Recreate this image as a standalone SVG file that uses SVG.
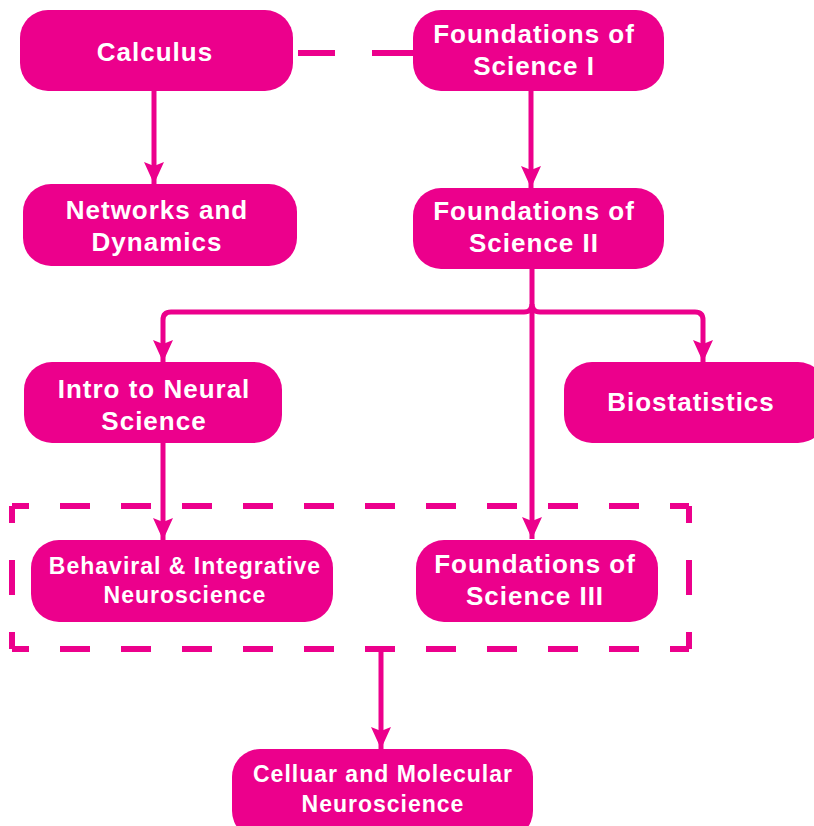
<svg xmlns="http://www.w3.org/2000/svg" width="814" height="826" viewBox="0 0 814 826">
<style>
.box{fill:#EC008C}
.t{fill:#fff;font-family:"Liberation Sans",Arial,sans-serif;font-weight:bold;font-size:26px;letter-spacing:1px;text-anchor:middle}
.s{font-size:23px;letter-spacing:1px}
.c{fill:none;stroke:#EC008C;stroke-width:5}
.d{fill:none;stroke:#EC008C;stroke-width:6}
</style>
<defs>
<marker id="ah" markerUnits="userSpaceOnUse" markerWidth="24" markerHeight="26" refX="22" refY="10" orient="auto" viewBox="0 0 24 20">
<path d="M22,10 L0,0 L4,10 L0,20 Z" fill="#EC008C"/>
</marker>
</defs>
<rect width="814" height="826" fill="#fff"/>
<g id="connectors">
<path class="c" d="M154,91 V184" marker-end="url(#ah)"/>
<path class="d" d="M298,53 H335 M372,53 H413"/>
<path class="c" d="M531,91 V188" marker-end="url(#ah)"/>
<path class="c" d="M532,269 V304 Q532,312 524,312 H171 Q163,312 163,320 V362" marker-end="url(#ah)"/>
<path class="c" d="M532,304 Q532,312 540,312 H695 Q703,312 703,320 V362" marker-end="url(#ah)"/>
<path class="c" d="M532,312 V539" marker-end="url(#ah)"/>
<path class="c" d="M163,443 V540" marker-end="url(#ah)"/>
<path class="c" d="M381,649 V749" marker-end="url(#ah)"/>
</g>
<g id="group-box">
<path class="d" d="M12,506 H689" stroke-dasharray="30 31" stroke-dashoffset="13"/>
<path class="d" d="M12,649 H689" stroke-dasharray="30 31" stroke-dashoffset="13"/>
<path class="d" d="M12,506 V649" stroke-dasharray="35 37" stroke-dashoffset="18"/>
<path class="d" d="M689,506 V649" stroke-dasharray="35 37" stroke-dashoffset="18"/>
</g>
<g id="calculus">
<rect class="box" x="20" y="10" width="273" height="81" rx="28"/>
<text class="t" x="155" y="61">Calculus</text>
</g>
<g id="fos1">
<rect class="box" x="413" y="10" width="251" height="81" rx="28"/>
<text class="t" x="534" y="43">Foundations of</text>
<text class="t" x="534" y="75">Science I</text>
</g>
<g id="networks">
<rect class="box" x="23" y="184" width="274" height="82" rx="28"/>
<text class="t" x="157" y="219">Networks and</text>
<text class="t" x="157" y="251">Dynamics</text>
</g>
<g id="fos2">
<rect class="box" x="413" y="188" width="251" height="81" rx="28"/>
<text class="t" x="534" y="220">Foundations of</text>
<text class="t" x="534" y="252">Science II</text>
</g>
<g id="intro">
<rect class="box" x="24" y="362" width="258" height="81" rx="28"/>
<text class="t" x="154" y="398">Intro to Neural</text>
<text class="t" x="154" y="430">Science</text>
</g>
<g id="biostatistics">
<rect class="box" x="564" y="362" width="262" height="81" rx="28"/>
<text class="t" x="691" y="411">Biostatistics</text>
</g>
<g id="behavioral">
<rect class="box" x="31" y="540" width="302" height="82" rx="28"/>
<text class="t s" x="185" y="574">Behaviral &amp; Integrative</text>
<text class="t s" x="185" y="603">Neuroscience</text>
</g>
<g id="fos3">
<rect class="box" x="416" y="540" width="242" height="82" rx="28"/>
<text class="t" x="535" y="573">Foundations of</text>
<text class="t" x="535" y="605">Science III</text>
</g>
<g id="cellular">
<rect class="box" x="232" y="749" width="301" height="90" rx="28"/>
<text class="t s" x="383" y="782">Celluar and Molecular</text>
<text class="t s" x="383" y="812">Neuroscience</text>
</g>
</svg>
